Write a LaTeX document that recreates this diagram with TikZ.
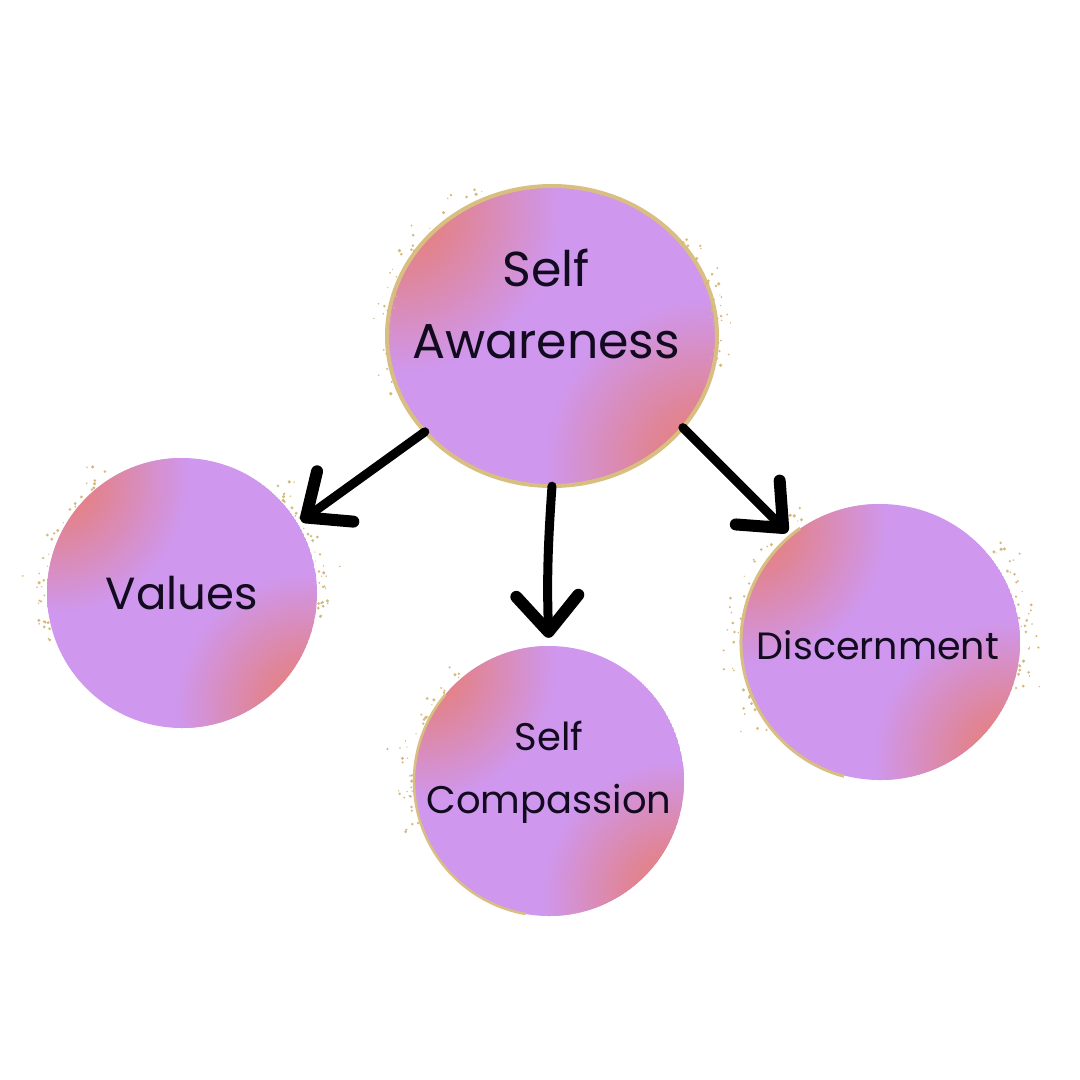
\documentclass[tikz,border=0pt]{standalone}
\usepackage{fontspec}
\setmainfont{Poppins}
\usetikzlibrary{arrows.meta,shapes.geometric,calc}
\definecolor{lilac}{HTML}{CF97EE}
\definecolor{coral}{HTML}{EA7A64}
\definecolor{goldrim}{HTML}{D8BE80}
\definecolor{ink}{HTML}{120A1E}
\tikzset{
  bubble/.style={ellipse, minimum width=#1, minimum height=#1, inner sep=0pt},
  lbl/.style={align=center, text=ink, inner sep=0pt},
  brush/.style={line width=9pt, black, line cap=round,
    -{Straight Barb[length=36pt, width=62pt, line width=12pt, round]}},
  speck/.style={fill=goldrim!90!brown},
}
\newcommand{\blob}[3]{% center, rx, ry
  \begin{scope}
    \clip #1 ellipse [x radius=#2, y radius=#3];
    \fill[lilac] #1 ellipse [x radius=#2, y radius=#3];
    \shade[inner color=coral, outer color=lilac] ($#1+(-0.95*#2,-0.85*#3)$) circle [radius=1.0*#2];
    \shade[inner color=coral, outer color=lilac] ($#1+(0.95*#2,0.85*#3)$) circle [radius=1.0*#2];
  \end{scope}}
\newcommand{\specks}[5]{% cx, cy, r, start angle, end angle
  \pgfmathsetseed{#1}
  \foreach \i in {1,...,40}{
    \pgfmathsetmacro{\ang}{#4+rnd*(#5-#4)}
    \pgfmathsetmacro{\dd}{#3+2+rnd*rnd*28}
    \pgfmathsetmacro{\sz}{0.6+rnd*1.2}
    \fill[speck] ($(#1,#2)+(\ang:\dd)$) circle [radius=\sz];
  }}
\begin{document}
\begin{tikzpicture}[x=1pt,y=-1pt]
\useasboundingbox[fill=white] (0,0) rectangle (1080,1080);
% backgrounds
\blob{(552,336)}{165}{150}
\draw[goldrim, line width=4pt] (552,336) ellipse [x radius=165, y radius=150];
\specks{552}{336}{158}{-200}{-110}
\specks{552}{336}{158}{10}{-40}
\blob{(182,593)}{135}{135}
\specks{182}{593}{135}{-200}{-120}
\specks{182}{593}{135}{10}{-50}
\blob{(549,781)}{135}{135}
\draw[goldrim, line width=2.5pt] (549,781) ++(100:135) arc[start angle=100, end angle=220, radius=135];
\specks{549}{781}{135}{-200}{-130}
\blob{(880,642)}{140}{138}
\draw[goldrim, line width=3pt] (880,642) ++(105:139) arc[start angle=105, end angle=235, radius=139];
\specks{880}{642}{139}{-220}{-120}
\specks{880}{642}{139}{20}{-40}
% nodes
\node[bubble=300pt, minimum width=330pt] (sa) at (552,336) {};
\node[bubble=270pt] (val) at (182,593) {};
\node[bubble=270pt] (sc) at (549,781) {};
\node[bubble=278pt, minimum width=280pt] (dis) at (880,642) {};
% labels
\node[lbl, font=\fontsize{49}{72}\selectfont] (sa-t) at (546,304) {Self\\Awareness};
\node[lbl, font=\fontsize{45}{50}\selectfont] (val-t) at (182,593) {Values};
\node[lbl, font=\fontsize{38.5}{63}\selectfont] (sc-t) at (549,772) {Self\\Compassion};
\node[lbl, font=\fontsize{38}{44}\selectfont] (dis-t) at (878,645) {Discernment};
% connectors
\draw[brush, shorten >=4pt] (sa.217) -- (val.31);
\draw[brush, shorten >=8pt] (sa.south) to[bend right=3] (sc.north);
\draw[brush, shorten >=4pt] (sa.-35) -- (dis.130);
\end{tikzpicture}
\end{document}
